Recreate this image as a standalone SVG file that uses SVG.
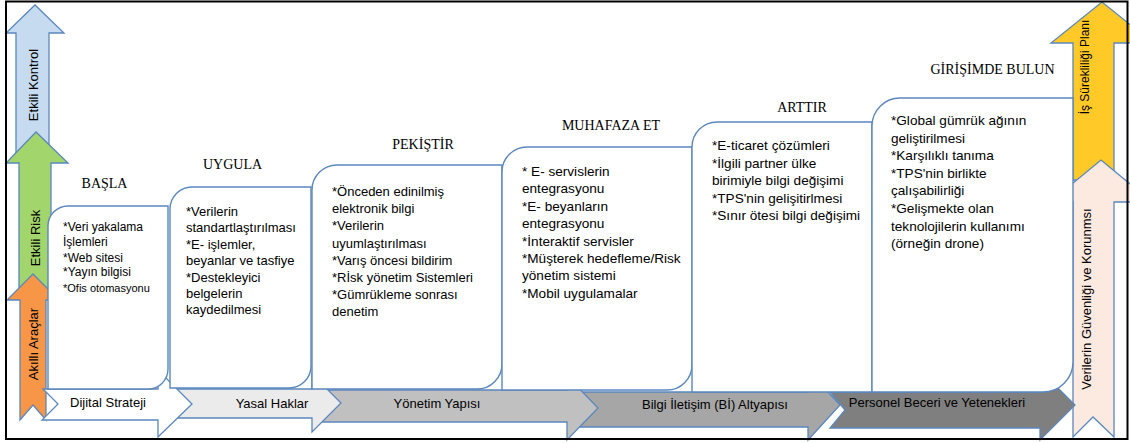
<svg xmlns="http://www.w3.org/2000/svg" width="1130" height="443" viewBox="0 0 1130 443">
<style>
.ol{stroke:#5a87bd;stroke-width:1.3;stroke-linejoin:miter}
.box{fill:#fff;stroke:#5a87bd;stroke-width:1.4}
.ttl{font-family:"Liberation Serif","Times New Roman",serif;font-size:14px;fill:#000;text-anchor:middle}
.bt{font-family:"Liberation Sans",Arial,sans-serif;font-size:13px;fill:#000}
.bt2{font-family:"Liberation Sans",Arial,sans-serif;font-size:13.6px;fill:#000}
.lb{font-family:"Liberation Sans",Arial,sans-serif;font-size:13px;fill:#000;text-anchor:middle}
</style>
<rect x="0" y="0" width="1130" height="443" fill="#fff"/>

<g id="arrow-etkili-kontrol">
<path class="ol" fill="#c6dbef" d="M16,155 V33 H6 L35,5 L64,33 H49 V155 Z"/>
<text class="lb" transform="translate(38,85) rotate(-90)">Etkili Kontrol</text>
</g>
<g id="arrow-etkili-risk">
<path class="ol" fill="#a2d56b" d="M19,290 V163 H6 L36,132 L68,163 H51 V290 Z"/>
<text class="lb" transform="translate(40,238) rotate(-90)">Etkili Risk</text>
</g>
<g id="arrow-akilli-araclar">
<path class="ol" fill="#f79646" d="M20,420 V300 H7 L33,274 L59,300 H46 V420 L33,405 Z"/>
<text class="lb" transform="translate(38,344) rotate(-90)">Akıllı Araçlar</text>
</g>

<g id="arrow-is-surekliligi">
<path class="ol" fill="#ffc928" d="M1073,180 V43 H1051 L1102,2 L1153,43 H1114 V180 Z"/>
<text class="lb" style="font-size:12px" transform="translate(1089,67) rotate(-90)">İş Sürekliliği Planı</text>
</g>
<g id="arrow-veri-guvenligi">
<path class="ol" fill="#fce9df" d="M1073,437 V202 H1050 L1101,160 L1152,202 H1114 V437 L1093,417 Z"/>
<text class="lb" transform="translate(1091,299) rotate(-90)">Verilerin Güvenliği ve Korunmsı</text>
</g>

<g id="chevron-personel">
<path class="ol" fill="#7f7f7f" d="M830,392 H1040 V370 L1075,405 L1040,440 V428 H830 L845,410 Z"/>
<text class="lb" x="937" y="407">Personel Beceri ve Yetenekleri</text>
</g>
<g id="chevron-bilgi">
<path class="ol" fill="#a6a6a6" d="M575,392 H808 V370 L840,405 L808,440 V427 H575 L590,410 Z"/>
<text class="lb" x="715" y="409">Bilgi İletişim (Bİ) Altyapısı</text>
</g>
<g id="chevron-yonetim">
<path class="ol" fill="#c0c0c0" d="M318,390 H567 V376 L598,408 L567,440 V422 H318 L333,406 Z"/>
<text class="lb" x="437" y="408">Yönetim Yapısı</text>
</g>
<g id="chevron-yasal">
<path class="ol" fill="#ebebeb" d="M170,389 H312 V374 L341,403 L312,432 V418 H170 L185,403 Z"/>
<text class="lb" x="272" y="408">Yasal Haklar</text>
</g>
<g id="chevron-dijital">
<path class="ol" fill="#ffffff" d="M43,389 H158 V370 L192,404 L158,437 V420 H42 L58,404 Z"/>
<text class="lb" x="108" y="407">Dijital Strateji</text>
</g>

<g id="node-basla">
<path class="box" d="M48,226 A20,20 0 0 1 68,206 H168 V369 A20,20 0 0 1 148,389 H48 Z"/>
<text class="ttl" x="104.5" y="188">BAŞLA</text>
<text class="bt" style="font-size:12px" x="63" y="231">*Veri yakalama</text>
<text class="bt" style="font-size:12px" x="63" y="246">İşlemleri</text>
<text class="bt" style="font-size:12px" x="63" y="261.5">*Web sitesi</text>
<text class="bt" style="font-size:12px" x="63" y="276">*Yayın bilgisi</text>
<text class="bt" style="font-size:11px" x="63" y="292">*Ofis otomasyonu</text>
</g>

<g id="node-uygula">
<path class="box" d="M170,209 A22,22 0 0 1 192,187 H311 V366 A22,22 0 0 1 289,388 H170 Z"/>
<text class="ttl" x="232.5" y="169">UYGULA</text>
<text class="bt" x="186" y="216">*Verilerin</text>
<text class="bt" x="186" y="232.4">standartlaştırılması</text>
<text class="bt" x="186" y="248.8">*E- işlemler,</text>
<text class="bt" x="186" y="265.2">beyanlar ve tasfiye</text>
<text class="bt" x="186" y="281.6">*Destekleyici</text>
<text class="bt" x="186" y="298">belgelerin</text>
<text class="bt" x="186" y="314.4">kaydedilmesi</text>
</g>

<g id="node-pekistir">
<path class="box" d="M312,190 A25,25 0 0 1 337,165 H502 V364 A25,25 0 0 1 477,389 H312 Z"/>
<text class="ttl" x="423" y="149">PEKİŞTİR</text>
<text class="bt" x="332" y="196">*Önceden edinilmiş</text>
<text class="bt" x="332" y="213.2">elektronik bilgi</text>
<text class="bt" x="332" y="230.4">*Verilerin</text>
<text class="bt" x="332" y="247.6">uyumlaştırılması</text>
<text class="bt" x="332" y="264.8">*Varış öncesi bildirim</text>
<text class="bt" x="332" y="282">*Rİsk yönetim Sistemleri</text>
<text class="bt" x="332" y="299.2">*Gümrükleme sonrası</text>
<text class="bt" x="332" y="316.4">denetim</text>
</g>

<g id="node-muhafaza-et">
<path class="box" d="M502,172 A25,25 0 0 1 527,147 H692 V365 A25,25 0 0 1 667,390 H502 Z"/>
<text class="ttl" x="611" y="130">MUHAFAZA ET</text>
<text class="bt2" x="522" y="176">* E- servislerin</text>
<text class="bt2" x="522" y="193.4">entegrasyonu</text>
<text class="bt2" x="522" y="210.8">*E- beyanların</text>
<text class="bt2" x="522" y="228.2">entegrasyonu</text>
<text class="bt2" x="522" y="245.6">*İnteraktif servisler</text>
<text class="bt2" x="522" y="263">*Müşterek hedefleme/Risk</text>
<text class="bt2" x="522" y="280.4">yönetim sistemi</text>
<text class="bt2" x="522" y="297.8">*Mobil uygulamalar</text>
</g>

<g id="node-arttir">
<path class="box" d="M692,147 A25,25 0 0 1 717,122 H872 V392 H692 Z"/>
<text class="ttl" x="802" y="112">ARTTIR</text>
<text class="bt2" x="712" y="150">*E-ticaret çözümleri</text>
<text class="bt2" x="712" y="167.5">*İlgili partner ülke</text>
<text class="bt2" x="712" y="185">birimiyle bilgi değişimi</text>
<text class="bt2" x="712" y="202.5">*TPS'nin gelişitirlmesi</text>
<text class="bt2" x="712" y="220">*Sınır ötesi bilgi değişimi</text>
</g>

<g id="node-girisimde-bulun">
<path class="box" d="M872,126 A28,28 0 0 1 900,98 H1073 V362 A30,30 0 0 1 1043,392 H872 Z"/>
<text class="ttl" x="992.5" y="74">GİRİŞİMDE BULUN</text>
<text class="bt2" x="891" y="125">*Global gümrük ağının</text>
<text class="bt2" x="891" y="142.6">geliştirilmesi</text>
<text class="bt2" x="891" y="160.2">*Karşılıklı tanıma</text>
<text class="bt2" x="891" y="177.8">*TPS'nin birlikte</text>
<text class="bt2" x="891" y="195.4">çalışabilirliği</text>
<text class="bt2" x="891" y="213">*Gelişmekte olan</text>
<text class="bt2" x="891" y="230.6">teknolojilerin kullanımı</text>
<text class="bt2" x="891" y="248.2">(örneğin drone)</text>
</g>

<g id="connectors"></g>

<rect x="6" y="1.5" width="1121.5" height="437.5" fill="none" stroke="#000" stroke-width="2"/>
</svg>
